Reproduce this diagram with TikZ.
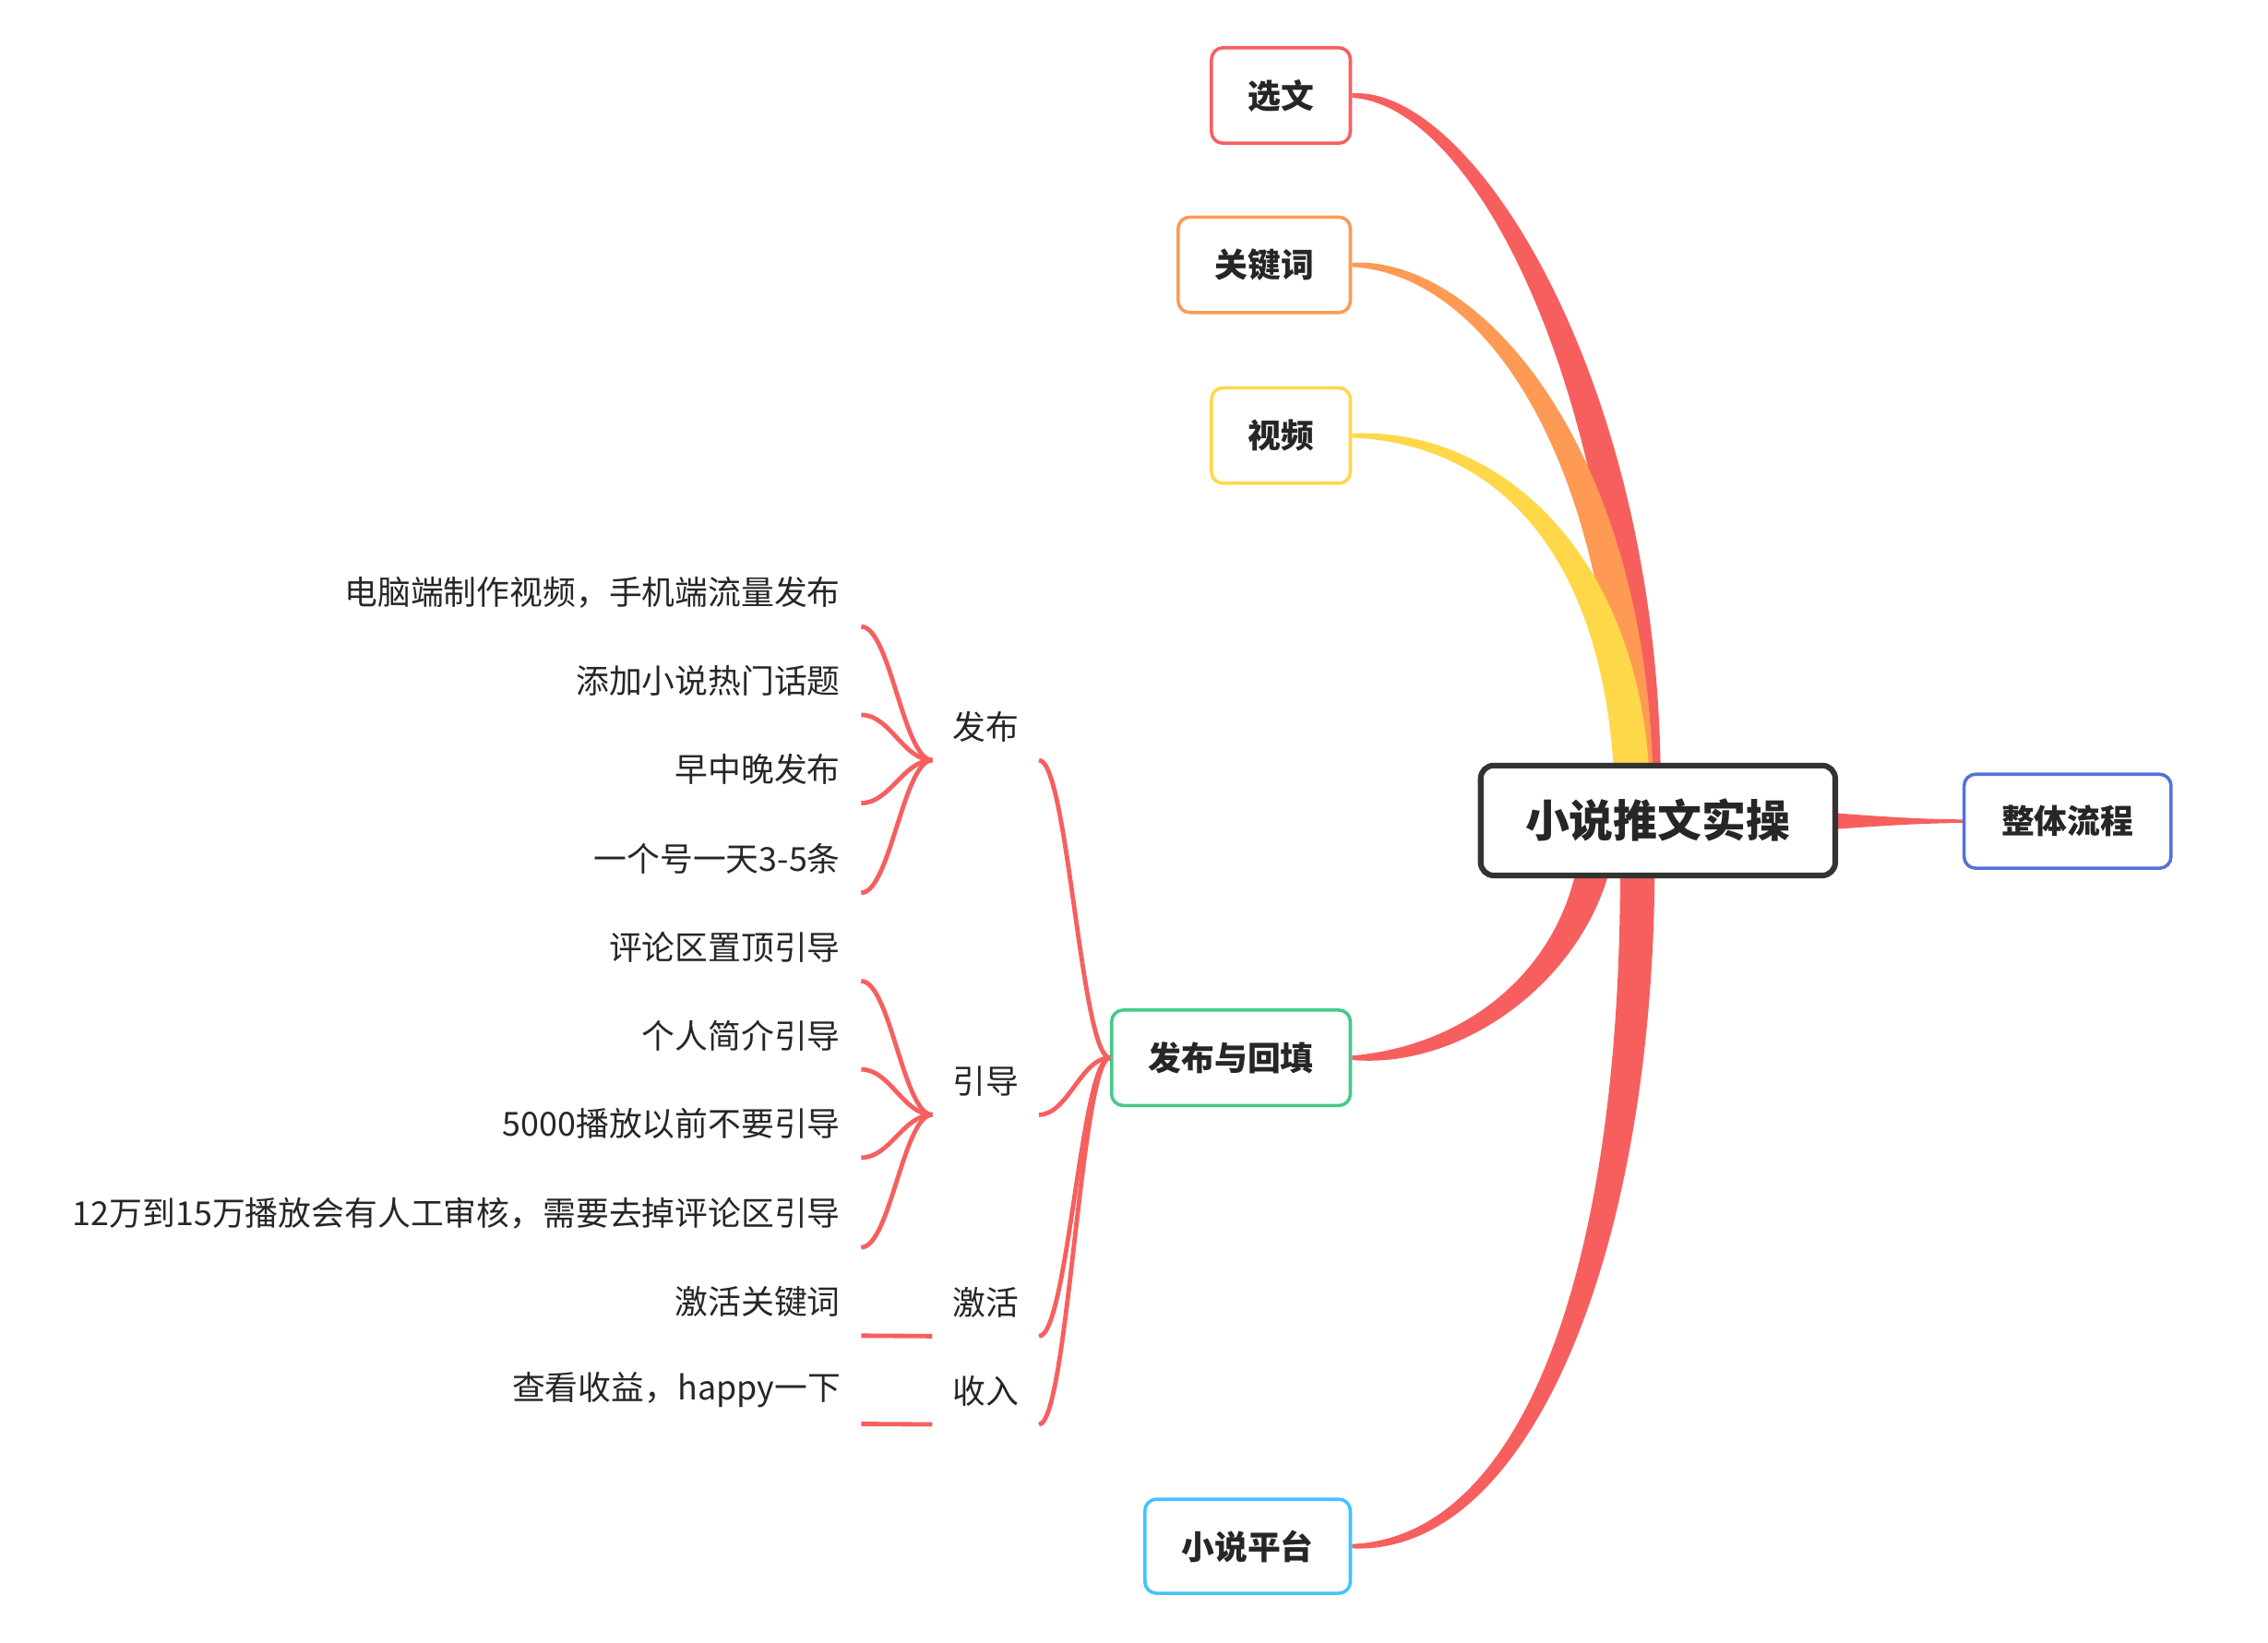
\documentclass[tikz,border=0pt]{standalone}
\usepackage{fontspec}
\setmainfont{Noto Sans CJK SC}
\usetikzlibrary{calc,backgrounds}
\definecolor{cred}{HTML}{F75F5F}
\definecolor{corange}{HTML}{FE9A54}
\definecolor{cyellow}{HTML}{FFD84A}
\definecolor{cgreen}{HTML}{46C98B}
\definecolor{ccyan}{HTML}{41C3FF}
\definecolor{cblue}{HTML}{5671DA}
\definecolor{ctext}{HTML}{262626}
\definecolor{cdark}{HTML}{333333}
\begin{document}
\begin{tikzpicture}[x=0.02cm,y=0.02cm,
  topic/.style={draw, line width=1.3pt, rounded corners=0.16cm, fill=white,
    minimum height=1.32cm, inner sep=0pt, text=ctext,
    font=\fontsize{13pt}{15pt}\selectfont\bfseries},
  central/.style={draw=cdark, line width=2.2pt, rounded corners=0.18cm, fill=white,
    minimum width=4.9cm, minimum height=1.52cm, inner sep=0pt, text=ctext,
    font=\fontsize{17.4pt}{20pt}\selectfont\bfseries},
  leaf/.style={anchor=south east, inner xsep=0.28cm, inner ysep=0pt,
    minimum height=0.92cm, text=ctext, font=\fontsize{13pt}{15pt}\selectfont},
  sublabel/.style={minimum width=1.46cm, minimum height=0.92cm, inner sep=0pt,
    text=ctext, font=\fontsize{13pt}{15pt}\selectfont},
  conn/.style={draw=cred, line width=1.75pt}
]
\useasboundingbox (0,0) rectangle (1567,-1135);

% main nodes
\node[central] (c) at (1145.5,-567) {小说推文实操};
\node[topic, draw=cred, minimum width=1.92cm] (xw) at (885,-66) {选文};
\node[topic, draw=corange, minimum width=2.38cm] (gj) at (873.5,-183) {关键词};
\node[topic, draw=cyellow, minimum width=1.92cm] (sp) at (885,-301) {视频};
\node[topic, draw=cgreen, minimum width=3.3cm] (fh) at (850.5,-731) {发布与回填};
\node[topic, draw=ccyan, minimum width=2.84cm, minimum height=1.3cm] (pt) at (862,-1068.5) {小说平台};
\node[topic, draw=cblue, minimum width=2.86cm, minimum height=1.3cm] (zt) at (1428.5,-567.5) {整体流程};

% tapered branches
\begin{pgfonlayer}{background}
\fill[cred] ($(xw.east)+(0,1.5)$) .. controls ($(xw.east)+(87,7)$) and ($(c.center)+(9.5,287)$) .. ($(c.center)+(1.5,0)$)
  -- ($(c.center)+(-22.5,0)$) .. controls ($(c.center)+(-20.5,287)$) and ($(xw.east)+(87,-7)$) .. ($(xw.east)+(0,-1.5)$) -- cycle;
\fill[corange] ($(gj.east)+(0,1.5)$) .. controls ($(gj.east)+(92,6)$) and ($(c.center)+(1.5,247)$) .. ($(c.center)+(-3.5,0)$)
  -- ($(c.center)+(-27.5,0)$) .. controls ($(c.center)+(-26.5,247)$) and ($(gj.east)+(92,-6)$) .. ($(gj.east)+(0,-1.5)$) -- cycle;
\fill[cyellow] ($(sp.east)+(0,1.5)$) .. controls ($(sp.east)+(105,6)$) and ($(c.center)+(-1.5,177)$) .. ($(c.center)+(-5.5,0)$)
  -- ($(c.center)+(-29.5,0)$) .. controls ($(c.center)+(-29.5,177)$) and ($(sp.east)+(105,-6)$) .. ($(sp.east)+(0,-1.5)$) -- cycle;
\fill[cred] ($(fh.east)+(0,-1.5)$) .. controls ($(fh.east)+(87,-9)$) and ($(c.center)+(-30.5,-93)$) .. ($(c.center)+(-28.5,0)$)
  -- ($(c.center)+(-52.5,0)$) .. controls ($(c.center)+(-54.5,-93)$) and ($(fh.east)+(87,9)$) .. ($(fh.east)+(0,1.5)$) -- cycle;
\fill[cred] ($(pt.east)+(0,-1.5)$) .. controls ($(pt.east)+(127,-7)$) and ($(c.center)+(3.5,-283)$) .. ($(c.center)+(-2.5,0)$)
  -- ($(c.center)+(-26.5,0)$) .. controls ($(c.center)+(-20.5,-283)$) and ($(pt.east)+(127,7)$) .. ($(pt.east)+(0,1.5)$) -- cycle;
\fill[cred] ($(zt.west)+(0,1.2)$) .. controls ($(zt.west)+(-57,1.5)$) and ($(zt.west)+(-107,8.5)$) .. ($(c.center)+(0,13)$)
  -- ($(c.center)+(0,-13)$) .. controls ($(zt.west)+(-107,-8.5)$) and ($(zt.west)+(-57,-1.5)$) .. ($(zt.west)+(0,-1.2)$) -- cycle;
\end{pgfonlayer}

% sub labels
\node[sublabel] (s1) at (681,-502) {发布};
\node[sublabel] (s2) at (681,-747) {引导};
\node[sublabel] (s3) at (681,-900) {激活};
\node[sublabel] (s4) at (681,-961) {收入};

% leaves
\node[leaf] (l1) at (595,-433) {电脑端制作视频，手机端流量发布};
\node[leaf] (l2) at (595,-494) {添加小说热门话题};
\node[leaf] (l3) at (595,-555) {早中晚发布};
\node[leaf] (l4) at (595,-617) {一个号一天3-5条};
\node[leaf] (l5) at (595,-678) {评论区置顶引导};
\node[leaf] (l6) at (595,-739) {个人简介引导};
\node[leaf] (l7) at (595,-800) {5000播放以前不要引导};
\node[leaf] (l8) at (595,-862) {12万到15万播放会有人工审核，需要去掉评论区引导};
\node[leaf] (l9) at (595,-923) {激活关键词};
\node[leaf] (l10) at (595,-984) {查看收益，happy一下};

% connectors: topic -> sub labels
\foreach \s in {s1,s2,s3,s4}
  \draw[conn] (fh.west) .. controls +(-20,0) and +(20,0) .. (\s.south east);
% sub labels -> leaves
\foreach \l in {l1,l2,l3,l4}
  \draw[conn] (s1.south west) .. controls +(-20,0) and +(20,0) .. (\l.south east);
\foreach \l in {l5,l6,l7,l8}
  \draw[conn] (s2.south west) .. controls +(-20,0) and +(20,0) .. (\l.south east);
\draw[conn] (s3.south west) -- (l9.south east);
\draw[conn] (s4.south west) -- (l10.south east);
\end{tikzpicture}
\end{document}
